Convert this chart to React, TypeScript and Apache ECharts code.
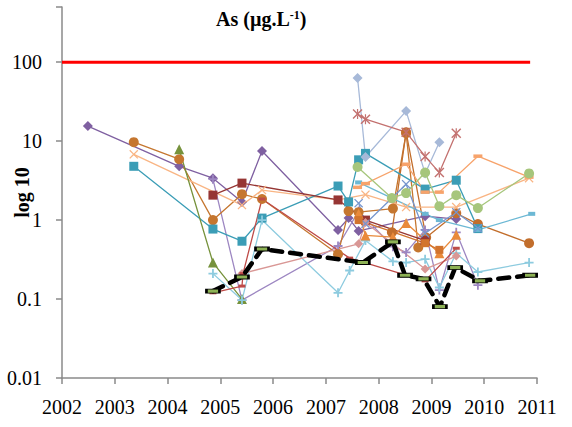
import React, { useEffect, useRef } from 'react';
import * as echarts from 'echarts';

// ---- data (year, µg/L) ----
const yTickValues = [0.01, 0.1, 1, 10, 100];
const limitLine = [[2002, 100], [2010.87, 100]];
const purpleDiamond = [[2002.49, 15.5], [2004.22, 4.8], [2004.86, 3.4], [2005.41, 1.69], [2005.79, 7.5], [2007.23, 0.75], [2007.43, 1.06], [2007.62, 0.73], [2008.88, 1.12], [2009.47, 1.03]];
const lavenderPlus = [[2004.86, 3.3], [2005.41, 0.097], [2007.23, 0.47], [2007.62, 1.3], [2008.27, 0.46], [2008.52, 0.39], [2008.88, 0.75], [2009.15, 0.13], [2009.47, 0.7], [2009.88, 0.15]];
const brownCircleA = [[2003.36, 9.7], [2004.22, 5.9], [2004.86, 1.0], [2005.41, 2.13], [2005.79, 1.85], [2007.23, 0.37], [2007.43, 1.3], [2007.62, 1.26], [2008.27, 1.4], [2008.52, 12.6], [2008.75, 0.45]];
const brownCircleB = [[2008.25, 0.7], [2008.52, 13], [2008.9, 0.6], [2009.47, 1.22], [2009.88, 0.89], [2010.85, 0.51]];
const peachCross = [[2003.36, 6.8], [2005.41, 1.55], [2005.79, 2.4], [2007.23, 1.8], [2007.75, 2.1], [2008.52, 1.46], [2009.47, 1.46], [2010.85, 3.4]];
const tealSquare = [[2003.36, 4.8], [2004.86, 0.77], [2005.41, 0.54], [2005.79, 1.06], [2007.23, 2.7], [2007.43, 1.7], [2007.62, 5.8], [2007.75, 7.0], [2008.88, 2.47], [2009.47, 3.2], [2009.88, 0.78]];
const skyDash = [[2007.62, 3.0], [2008.88, 1.2], [2009.15, 1.0], [2009.88, 0.75], [2010.9, 1.2]];
const darkRedSquare = [[2004.86, 2.07], [2005.41, 2.94], [2007.23, 1.8], [2007.75, 1.0], [2008.88, 0.55]];
const oliveTriangle = [[2004.22, 7.9], [2004.86, 0.29], [2005.41, 0.1]];
const lightBluePlus = [[2004.86, 0.21], [2005.41, 0.097], [2005.79, 1.0], [2007.23, 0.12], [2007.45, 0.23], [2007.75, 0.55], [2008.27, 0.3], [2008.52, 0.29], [2008.88, 0.32], [2009.15, 0.14], [2009.47, 0.38], [2009.88, 0.22], [2010.85, 0.29]];
const pinkDiamond = [[2005.41, 0.21], [2007.62, 0.5], [2007.75, 0.93], [2008.88, 0.24], [2009.47, 0.35]];
const steelDiamond = [[2007.6, 63], [2007.75, 6.3], [2008.52, 24], [2008.88, 3.9], [2009.15, 9.7]];
const roseStar = [[2007.6, 22], [2007.75, 19], [2008.52, 13], [2008.88, 6.4], [2009.15, 4.0], [2009.47, 12.6]];
const orangeDash = [[2007.6, 2.6], [2007.75, 2.9], [2008.52, 5.1], [2008.88, 2.26], [2009.15, 2.26], [2009.88, 6.45], [2010.85, 3.5]];
const greenCircle = [[2007.6, 4.7], [2008.25, 1.9], [2008.52, 2.2], [2008.88, 4.0], [2009.15, 1.5], [2009.47, 2.07], [2009.88, 1.42], [2010.85, 3.9]];
const orangeTriangle = [[2007.62, 1.2], [2007.75, 0.64], [2008.27, 0.61], [2008.52, 0.92], [2009.15, 0.38], [2009.47, 0.65]];
const blueCross = [[2007.62, 1.64], [2007.75, 0.9], [2008.52, 2.85], [2008.88, 0.68], [2009.47, 1.26], [2009.88, 0.79]];
const redDash = [[2004.86, 0.12], [2005.41, 0.146], [2005.43, 0.21], [2005.79, 1.85], [2007.45, 0.33], [2008.88, 0.17], [2009.47, 0.44]];
const orangeSquare = [[2007.62, 1.0], [2008.88, 0.51], [2009.15, 0.42]];
const detectionLimit = [[2004.86, 0.126], [2005.41, 0.19], [2005.79, 0.43], [2007.7, 0.29], [2008.27, 0.53], [2008.5, 0.2], [2008.85, 0.18], [2009.16, 0.08], [2009.45, 0.25], [2009.92, 0.17], [2010.87, 0.2]];

const PLUS = 'path://M4,0H6V4H10V6H6V10H4V6H0V4H4Z';
const CROSS = 'path://M1,0L5,4L9,0L10,1L6,5L10,9L9,10L5,6L1,10L0,9L4,5L0,1Z';
const STAR = 'path://M1,0L5,4L9,0L10,1L6,5L10,9L9,10L5,6L1,10L0,9L4,5L0,1Z M4.4,0H5.6V3.6H4.4Z M4.4,6.4H5.6V10H4.4Z';

const FONT = 'Liberation Serif';

function mk(name: string, data: number[][], color: string, symbol: string, size: any, width = 1.3) {
  return {
    name,
    type: 'line',
    data,
    symbol,
    symbolSize: size,
    showSymbol: true,
    lineStyle: { color, width },
    itemStyle: { color },
    emphasis: { disabled: true },
  };
}

export default function App() {
  const ref = useRef<HTMLDivElement>(null);
  useEffect(() => {
    if (!ref.current) return;
    const chart = echarts.init(ref.current, undefined, { renderer: 'svg' });
    const option: any = {
      animation: false,
      backgroundColor: '#ffffff',
      textStyle: { fontFamily: FONT },
      title: {
        text: '{b|As (µg.L}{s|-1}{b|)}',
        left: 211,
        top: 2,
        textStyle: {
          fontFamily: FONT,
          rich: {
            b: { fontFamily: FONT, fontWeight: 'bold', fontSize: 20, color: '#000', lineHeight: 24 },
            s: { fontFamily: FONT, fontWeight: 'bold', fontSize: 12, color: '#000', lineHeight: 12, verticalAlign: 'top', padding: [2, 0, 0, 0] },
          },
        },
      },
      grid: { left: 62, right: 35, top: 7, bottom: 49, containLabel: false, outerBoundsMode: 'none' },
      xAxis: {
        type: 'value',
        min: 2002,
        max: 2011,
        interval: 1,
        axisLine: { show: true, lineStyle: { color: '#8a8a8a', width: 1.5 } },
        axisTick: { show: true, length: 6, lineStyle: { color: '#8a8a8a', width: 1.5 } },
        axisLabel: { fontFamily: FONT, fontSize: 20, color: '#000', margin: 19, formatter: (v: number) => String(v) },
        splitLine: { show: false },
      },
      yAxis: {
        type: 'log',
        logBase: 10,
        min: 0.01,
        max: 500,
        name: 'log 10',
        nameLocation: 'middle',
        nameGap: 40,
        nameRotate: 90,
        nameMoveOverlap: false,
        nameTextStyle: { fontFamily: FONT, fontWeight: 'bold', fontSize: 20, color: '#000', align: 'center', verticalAlign: 'middle' },
        axisLine: { show: true, lineStyle: { color: '#8a8a8a', width: 1.5 } },
        axisTick: { show: true, length: 6, lineStyle: { color: '#8a8a8a', width: 1.5 } },
        axisLabel: {
          fontFamily: FONT,
          fontSize: 20,
          color: '#000',
          margin: 20,
          formatter: (v: number) => {
            const hit = yTickValues.find((t) => Math.abs(t - v) / t < 1e-6);
            return hit !== undefined ? String(hit) : '';
          },
        },
        splitLine: { show: false },
      },
      series: [
        { ...mk('limit', limitLine, '#ff0000', 'none', 0, 3) },
        mk('P1', purpleDiamond, '#7f60a1', 'diamond', 10),
        mk('P2', lavenderPlus, '#9d87c2', PLUS, 9),
        mk('P3', brownCircleA, '#c5762f', 'circle', 10),
        mk('P4', brownCircleB, '#c26e2c', 'circle', 10),
        mk('P5', peachCross, '#f9b584', CROSS, 9),
        mk('P6', tealSquare, '#3b9db6', 'rect', 9),
        mk('P7', skyDash, '#6cb8d4', 'rect', [7, 4]),
        mk('P8', darkRedSquare, '#963634', 'rect', 9),
        mk('P9', oliveTriangle, '#76923c', 'triangle', 10),
        mk('P10', lightBluePlus, '#8dcbdf', PLUS, 9),
        mk('P11', pinkDiamond, '#d99795', 'diamond', 9),
        mk('P12', steelDiamond, '#a7b9d8', 'diamond', 10),
        mk('P13', roseStar, '#c3716f', STAR, 10),
        mk('P14', orangeDash, '#f7a36b', 'rect', [9, 3.5]),
        mk('P15', greenCircle, '#a6c67c', 'circle', 10),
        mk('P16', orangeTriangle, '#e98a3b', 'triangle', 10),
        mk('P17', blueCross, '#7696ce', CROSS, 9),
        mk('P18', redDash, '#be4b48', 'rect', [7, 3]),
        mk('P19', orangeSquare, '#d2742e', 'rect', 8),
        {
          name: 'LD',
          type: 'line',
          data: detectionLimit,
          symbol: 'rect',
          symbolSize: [13, 4],
          lineStyle: { color: '#000', width: 4.5, type: [11, 8], cap: 'round' },
          itemStyle: { color: '#8db255', borderColor: '#000', borderWidth: 1.5 },
          emphasis: { disabled: true },
          z: 5,
        },
      ],
    };
    chart.setOption(option);
    return () => chart.dispose();
  }, []);
  return <div ref={ref} style={{ position: 'absolute', left: 0, top: 0, width: 572, height: 427 }} />;
}
